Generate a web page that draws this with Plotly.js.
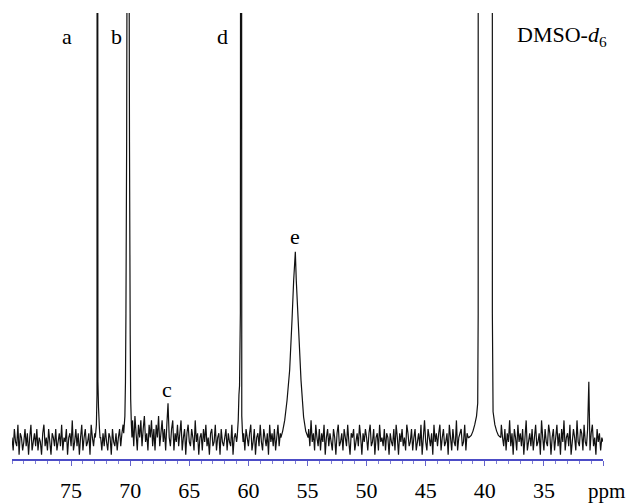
<!DOCTYPE html>
<html><head><meta charset="utf-8">
<script src="https://cdn.plot.ly/plotly-3.0.1.min.js"></script>
<style>html,body{margin:0;padding:0;background:#fff}#chart{width:628px;height:503px}</style>
</head><body><div id="chart"></div>
<script>
// 13C spectrum: baseline noise sampled every 0.1 ppm from 80.0 down to 30.0 (null = inside a peak window)
const noiseStart = 80.0, noiseStep = -0.1;
const noise = [
 1,-2,3,0,-1,4,-3,2,1,-2,0,3,-1,2,-3,1,4,-2,0,2,
 -1,3,-2,1,0,-3,2,4,-1,1,-2,3,0,-3,2,1,-1,3,-2,0,
 2,-1,4,-2,1,0,3,-3,1,2,-1,5,-2,0,3,-1,2,-3,1,4,
 -2,1,3,-1,0,2,-3,4,1,-1,2,null,null,null,null,1,-2,2,-1,3,
 0,-2,2,1,-3,3,0,-1,2,-2,1,3,-1,2,4,null,null,null,null,null,
 null,null,5,-1,6,2,-2,4,1,5,-1,3,6,0,2,-2,4,1,5,-1,
 3,-2,4,1,6,-1,2,5,0,3,-2,4,9,1,-1,3,5,-2,2,0,
 4,-1,2,5,-2,1,3,-3,2,4,0,-1,3,1,-2,5,0,2,-3,1,
 2,-2,3,0,4,-1,1,-3,2,3,-1,0,4,-2,1,2,-3,3,0,-1,
 1,3,-2,2,0,-1,4,-3,1,2,0,null,null,null,null,null,2,-2,3,1,
 -1,2,4,-2,0,3,-3,1,2,-1,4,0,-2,3,1,-1,2,-3,4,0,
 2,-1,3,-2,1,4,-1,2,null,null,null,null,null,null,null,null,null,null,null,null,
 null,null,null,null,null,null,null,null,null,null,null,3,-1,5,0,2,-2,4,1,-1,
 3,-2,2,0,4,-3,1,3,-1,2,0,-2,3,1,-3,2,4,-1,0,2,
 -2,3,1,-1,4,0,-3,2,1,3,-2,0,2,-1,4,1,-3,2,0,3,
 1,-2,2,4,-1,0,3,-3,1,2,-2,4,0,1,-1,3,-2,2,1,-3,
 2,0,-1,3,-2,4,1,-3,2,0,3,-1,1,-2,4,2,-1,0,3,-2,
 1,3,-2,0,2,-1,4,-3,1,5,0,-2,3,1,-1,2,-3,4,0,2,
 -1,2,4,-2,1,3,-1,0,2,-3,4,1,-2,3,0,-1,5,-2,1,2,
 3,-1,0,4,-2,2,1,null,null,null,null,null,null,null,null,null,null,null,null,null,
 null,null,null,null,null,null,null,null,null,null,null,null,null,null,4,1,-1,3,-2,2,
 0,5,-1,2,-3,3,1,-2,4,0,2,-1,3,-3,1,5,-2,0,2,-1,
 3,-2,1,4,-1,0,2,-3,5,1,-2,3,0,-1,4,2,-3,1,3,-2,
 1,4,-1,2,-3,3,0,5,-2,1,2,-1,4,-3,0,3,1,-2,5,0,
 -1,3,2,-2,4,0,-1,3,14,-2,2,4,-1,1,-3,3,0,2,-2,1,
 0
];
// peaks (ppm, intensity); tall lines run off the top of the frame
const peakA_ppm = [72.95, 72.86, 72.81, 72.78, 72.73, 72.68, 72.6, 72.55];
const peakA_int = [1, 4, 11, 400, 14, 8, 3, 1];
const peakB_ppm = [70.55, 70.45, 70.4, 70.36, 70.3, 70.24, 70.18, 70.12, 70.06, 70.0, 69.96, 69.9, 69.85];
const peakB_int = [2, 6, 14, 30, 70, 150, 400, 150, 70, 25, 10, 4, 1];
const peakD_ppm = [60.95, 60.86, 60.8, 60.75, 60.68, 60.61, 60.56, 60.5, 60.45];
const peakD_int = [1, 5, 11, 13, 30, 400, 6, 2, 0];
const peakE_ppm = [57.25, 57.1, 56.93, 56.73, 56.51, 56.31, 56.17, 56.03, 55.95, 55.75, 55.55, 55.33, 55.15, 54.95];
const peakE_int = [1, 2.5, 5, 9.7, 16.7, 28.4, 37.7, 44.3, 37.7, 26.1, 14.4, 5.8, 2.5, 1];
const dmso_ppm = [41.35, 41.15, 41.0, 40.85, 40.7, 40.6, 40.56, 40.55, 39.37, 39.36, 39.3, 39.15, 39.0, 38.85, 38.65];
const dmso_int = [1, 1.5, 2.5, 4, 6, 9, 30, 400, 400, 30, 7, 4, 2.5, 1.5, 1];

const tickValues = [75, 70, 65, 60, 55, 50, 45, 40, 35, 30];
const tickLabels = ['75', '70', '65', '60', '55', '50', '45', '40', '35', ' '];
const axisUnit = 'ppm';
const peakNames = ['a', 'b', 'c', 'd', 'e'];
const peakLabelPpm = [75.35, 71.2, 66.89, 62.23, 56.06];
const peakLabelInt = [94.6, 94.6, 12.1, 94.6, 47.8];
const solventLabel = 'DMSO-<i>d</i><sub>6</sub>';

const pts = [];
noise.forEach((v, i) => { if (v !== null) pts.push([+(noiseStart + noiseStep * i).toFixed(2), v]); });
[[peakA_ppm, peakA_int], [peakB_ppm, peakB_int], [peakD_ppm, peakD_int], [peakE_ppm, peakE_int], [dmso_ppm, dmso_int]]
  .forEach(([p, v]) => p.forEach((x, k) => pts.push([x, v[k]])));
pts.sort((m, n) => n[0] - m[0]);

const serif = 'Liberation Serif, Times New Roman, serif';
const annotations = peakNames.map((t, i) => ({
  x: peakLabelPpm[i], y: peakLabelInt[i], xref: 'x', yref: 'y', text: t, showarrow: false,
  xanchor: 'center', yanchor: 'middle', font: {family: serif, size: 22, color: '#000'}
}));
annotations.push({x: 37.44, y: 94.6, xref: 'x', yref: 'y', text: solventLabel, showarrow: false,
  xanchor: 'left', yanchor: 'middle', font: {family: serif, size: 22, color: '#000'}});
annotations.push({x: 1.04, y: -0.072, xref: 'paper', yref: 'paper', text: axisUnit, showarrow: false,
  xanchor: 'right', yanchor: 'middle', font: {family: serif, size: 21, color: '#000'}});

Plotly.newPlot('chart', [{
  x: pts.map(p => p[0]), y: pts.map(p => p[1]), type: 'scatter', mode: 'lines',
  line: {color: '#111', width: 1.2, simplify: false}, hoverinfo: 'skip'
}], {
  width: 628, height: 503, margin: {l: 12, r: 25, t: 13, b: 44},
  paper_bgcolor: '#fff', plot_bgcolor: '#fff', showlegend: false,
  xaxis: {range: [80, 30], showgrid: false, zeroline: false, showline: true, linecolor: '#4c4cc6', linewidth: 2,
    ticks: 'outside', ticklen: 5, tickwidth: 1, tickcolor: '#6464cc', tickmode: 'array',
    tickvals: tickValues, ticktext: tickLabels, ticklabelstandoff: 6,
    tickfont: {family: serif, size: 22, color: '#000'},
    minor: {dtick: 1, ticks: 'outside', ticklen: 3, tickcolor: '#8080d4', tickwidth: 1, showgrid: false}},
  yaxis: {range: [-4, 100], visible: false, showgrid: false, zeroline: false},
  annotations: annotations
}, {staticPlot: true});
</script></body></html>
